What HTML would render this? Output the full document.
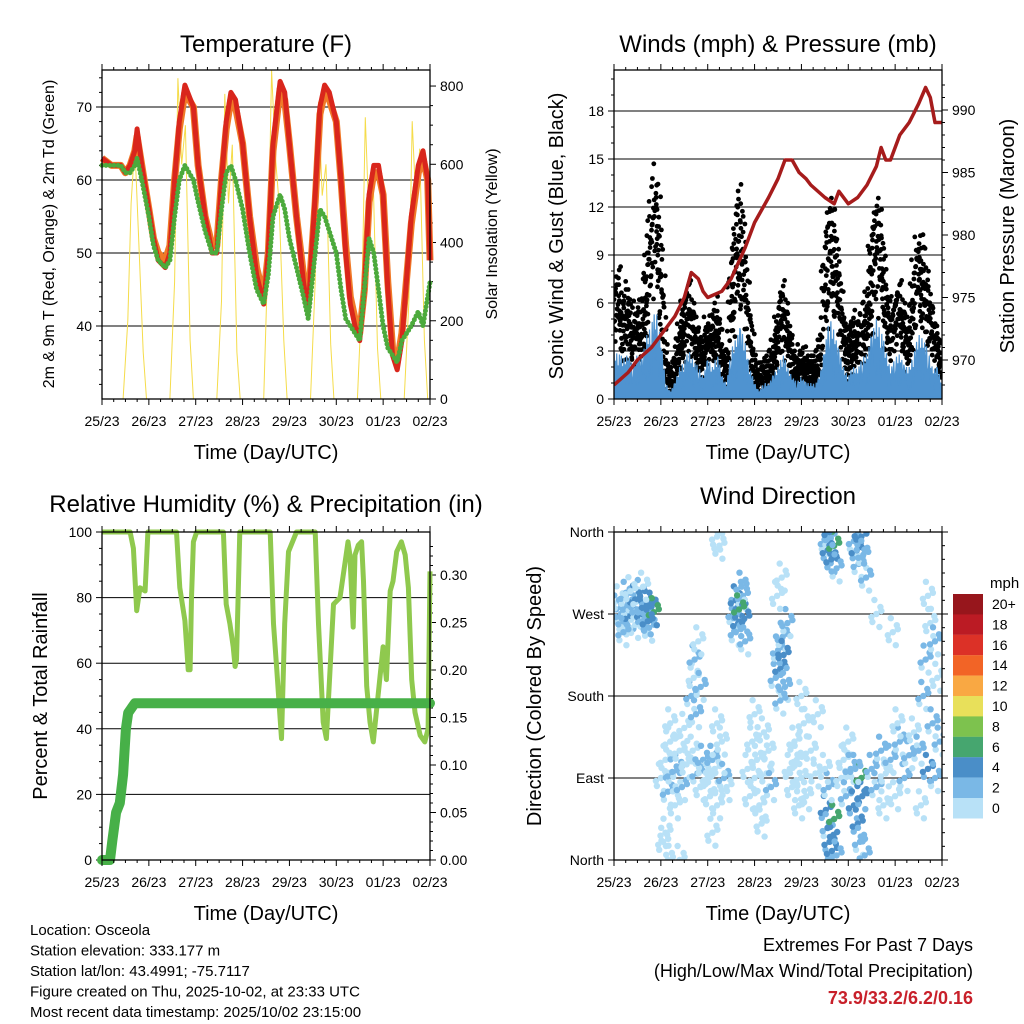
<!DOCTYPE html>
<html><head><meta charset="utf-8"><style>
body{margin:0;background:#fff;}
svg{display:block;font-family:"Liberation Sans",sans-serif;}
</style></head><body>
<svg id="c" width="1024" height="1024" viewBox="0 0 1024 1024"></svg>
<script>
// ---------- DATA ----------
const dayLabels=["25/23","26/23","27/23","28/23","29/23","30/23","01/23","02/23"];
const tT=[0,0.2,0.4,0.5,0.6,0.7,0.75,0.85,1.0,1.1,1.2,1.35,1.45,1.55,1.65,1.77,1.95,2.05,2.2,2.35,2.45,2.55,2.65,2.75,2.85,3.0,3.15,3.3,3.45,3.55,3.65,3.8,3.9,4.0,4.15,4.3,4.4,4.55,4.65,4.75,4.85,5.0,5.1,5.2,5.3,5.4,5.5,5.6,5.7,5.8,5.9,6.0,6.1,6.2,6.3,6.4,6.6,6.75,6.85,6.95,7.0];
const temp2m=[63,62,62,61,62,64,67,62,56,52,49,48,50,60,68,73,70,62,55,50,50,60,68,72,71,65,55,47,43,50,65,73.5,72,65,55,46,42,58,70,73,72,68,60,50,43,40,38,45,58,62,62,58,45,36,34,38,55,62,64,60,49];
const temp9m=[63,62,62,61,62,64,66,62,56,52,50,49,51,60,67,72,70,62,55,51,51,60,67,71,70,65,55,48,44,50,64,72.5,71,65,55,47,43,57,69,72,71,68,60,51,44,41,39,45,57,61,61,58,46,37,35,39,54,61,63,60,49];
const dew2m=[62,62,62,61,61,62,63,60,55,51,49,48,49,55,60,62,60,57,53,50,50,56,61,62,60,56,50,45,43,47,55,58,56,52,48,44,41,50,56,55,53,50,45,41,40,39,38,45,52,50,45,40,37,36,35,38,40,42,40,44,46];
const tSolar=[0,0.45,0.55,0.62,0.7,0.78,0.88,0.95,1.45,1.55,1.62,1.7,1.78,1.88,1.95,2.45,2.55,2.62,2.7,2.78,2.88,2.95,3.45,3.55,3.62,3.7,3.78,3.88,3.95,4.45,4.55,4.62,4.7,4.78,4.88,4.95,5.45,5.55,5.62,5.7,5.78,5.88,5.95,6.45,6.55,6.62,6.7,6.78,6.88,6.95,7.0];
const solar=[0,0,200,500,650,420,120,0,0,300,820,600,700,150,0,0,250,780,500,650,120,0,0,400,840,620,500,150,0,0,300,760,520,600,140,0,0,280,720,450,600,130,0,0,250,710,500,640,150,0,0];
const tWind=[0,0.1,0.2,0.3,0.4,0.5,0.6,0.7,0.8,0.9,1.0,1.1,1.2,1.3,1.4,1.5,1.6,1.7,1.8,1.9,2.0,2.1,2.2,2.3,2.4,2.5,2.6,2.7,2.8,2.9,3.0,3.1,3.2,3.3,3.4,3.5,3.6,3.7,3.8,3.9,4.0,4.1,4.2,4.3,4.4,4.5,4.6,4.7,4.8,4.9,5.0,5.1,5.2,5.3,5.4,5.5,5.6,5.7,5.8,5.9,6.0,6.1,6.2,6.3,6.4,6.5,6.6,6.7,6.8,6.9,7.0];
const gust=[6,8,5,7,4,6,5,9,12,14,10,3,1,2,4,6,7,5,4,3,5,4,6,3,2,8,11,13,9,5,2,1,2,2,3,5,7,5,3,2,3,2,2,2,3,9,12,11,8,5,3,5,4,5,6,10,12,11,7,5,6,7,5,4,8,10,9,7,5,4,2];
const sonic=[3,3,2.5,3,2,3,2.5,4,5,5.5,4,1,0.5,1,2,2.5,3,2.5,2,1.5,2.5,2,3,1.5,1,3,4,4.5,3.5,2,1,0.5,1,1,1.5,2,3,2,1.5,1,1.5,1,1,1,1.5,3.5,5,4.5,3,2,1.5,2,2,2.5,3,4,5,4.5,3,2,2.5,3,2,2,3,4,4,3,2,2,1];
const tPres=[0,0.3,0.5,0.8,1.0,1.3,1.5,1.65,1.8,1.9,2.0,2.3,2.5,2.8,3.0,3.3,3.5,3.65,3.8,3.95,4.1,4.2,4.5,4.7,4.8,5.0,5.2,5.4,5.6,5.7,5.8,5.9,6.1,6.3,6.5,6.65,6.75,6.85,7.0];
const pressure=[968,969,970,971,972,973.5,975,977,976.5,975.5,975,975.5,976.5,979,981,983,984.5,986,986,985,984.5,984,983,982.5,983.5,982.5,983,984,985.5,987,986,986,988,989,990.5,991.8,991,989,989];
const tRH=[0,0.6,0.67,0.74,0.81,0.92,0.95,0.98,1.59,1.66,1.77,1.84,1.88,1.91,1.95,2.02,2.59,2.65,2.73,2.8,2.84,2.87,2.94,3.59,3.66,3.73,3.83,3.9,3.98,4.15,4.55,4.62,4.72,4.79,4.94,5.08,5.22,5.25,5.29,5.36,5.4,5.47,5.54,5.58,5.65,5.72,5.79,6.0,6.07,6.15,6.21,6.29,6.39,6.47,6.54,6.61,6.68,6.79,6.89,6.96,7.0];
const rh=[100,100,95,76,83,82,91,100,100,83,73,58,58,80,97,100,100,78,72,65,59,61,100,100,72,58,37,72,94,100,100,72,42,37,78,80,94,97,93,71,93,96,97,85,53,42,36,65,55,82,85,94,97,93,83,55,45,38,36,40,88];
const tPrecip=[0,0.17,0.22,0.3,0.38,0.45,0.51,0.56,0.7,7.0];
const precip=[0,0,0.02,0.05,0.06,0.09,0.138,0.155,0.165,0.165];
const dirTime=[0.05,0.1,0.15,0.2,0.25,0.3,0.35,0.4,0.45,0.5,0.55,0.6,0.65,0.7,0.75,0.8,0.85,0.62,0.2,0.45,0.72,0.35,
1.0,1.05,1.1,1.15,1.2,1.25,1.3,1.35,1.4,1.45,1.5,1.55,1.2,1.1,1.4,1.15,
1.65,1.7,1.72,1.75,1.8,1.85,1.68,1.78,1.85,1.9,
2.0,2.05,2.1,2.15,2.2,2.3,2.35,2.1,2.2,2.4,2.2,2.25,
2.55,2.6,2.65,2.7,2.75,2.78,2.6,2.72,2.67,2.8,
2.85,2.9,2.95,3.0,3.05,3.1,3.2,3.25,3.3,3.35,3.0,3.15,
3.45,3.5,3.55,3.6,3.65,3.7,3.55,3.62,3.48,3.58,
3.75,3.8,3.85,3.9,4.0,4.05,4.1,4.2,4.3,4.35,4.0,3.95,
4.52,4.56,4.6,4.64,4.7,4.75,4.6,4.52,4.56,4.6,4.65,4.7,4.75,4.58,4.5,
4.85,4.9,4.95,5.0,5.05,
5.12,5.18,5.22,5.28,5.32,5.38,5.12,5.2,5.25,5.3,5.35,5.28,5.15,
5.5,5.6,5.7,5.8,5.9,6.0,6.1,6.2,6.3,6.4,5.75,6.05,5.95,5.6,
6.5,6.6,6.65,6.7,6.75,6.8,6.85,6.9,6.95,6.7,6.85,6.55];
const dirDeg=[275,285,270,262,290,278,268,283,258,275,292,270,265,280,255,278,272,300,250,286,262,295,
90,20,110,75,130,95,60,100,120,80,145,105,150,30,0,0,
180,200,220,160,240,190,120,95,80,110,
90,70,110,100,60,130,90,30,150,80,355,345,
270,285,260,278,290,265,250,300,275,240,
100,70,130,90,110,60,140,95,120,80,160,40,
200,230,210,245,190,260,175,225,290,310,
100,80,130,110,90,150,70,120,95,160,180,60,
350,340,355,330,345,320,360,55,35,20,10,45,5,80,100,
90,110,70,130,100,
350,340,325,355,335,310,60,40,20,70,5,90,100,
100,80,120,95,110,70,130,90,115,140,60,150,250,270,
120,180,220,100,260,150,90,200,130,290,240,60];
const dirSpd=[2,1,3,2,2,3,4,2,1,3,2,4,3,4,3,5,6,1,2,4,5,1,
1,1,0,2,1,2,0,3,1,2,1,0,0,0,0,0,
2,1,3,2,1,2,1,3,1,2,
1,0,2,1,0,1,2,0,0,1,0,1,
3,4,5,4,3,4,2,2,6,3,
0,1,0,1,0,1,0,1,0,2,0,0,
2,3,4,2,3,2,2,5,1,1,
0,1,0,1,0,1,0,1,0,0,0,0,
3,4,3,5,6,3,4,4,3,5,4,6,3,2,1,
1,0,2,1,2,
3,4,3,4,2,3,4,5,3,4,3,6,3,
2,3,2,1,2,1,2,3,2,1,1,1,1,1,
3,2,2,4,1,3,2,1,3,1,2,1];
const cbLabels=["20+","18","16","14","12","10","8","6","4","2","0"];
const cbColors=["#97161c","#bb1b24","#dc3127","#f26426","#f9a843","#e8e05a","#7dc24e","#46a66f","#4a8ec8","#7ab8e6","#b8e1f7"];

// ---------- HELPERS ----------
const svg=document.getElementById('c');
const NS="http://www.w3.org/2000/svg";
function mk(tag,attrs,parent){const e=document.createElementNS(NS,tag);for(const k in attrs)e.setAttribute(k,attrs[k]);(parent||svg).appendChild(e);return e;}
function txt(s,x,y,size,opts,parent){opts=opts||{};const e=mk('text',{x:x,y:y,'font-size':size,'text-anchor':opts.anchor||'middle',fill:opts.fill||'#000'},parent);if(opts.bold)e.setAttribute('font-weight','bold');if(opts.rot)e.setAttribute('transform','rotate('+opts.rot+' '+x+' '+y+')');e.textContent=s;return e;}
function path(xs,ys,fx,fy){return xs.map((v,i)=>(i?'L':'M')+fx(v).toFixed(1)+','+fy(ys[i]).toFixed(1)).join('');}

function panel(name,x0,y0,x1,y1){
  const g=mk('g',{});
  
  
  return {g,x0,y0,x1,y1,fx:d=>x0+(x1-x0)*d/7};
}
function frame(p){
  mk('rect',{x:p.x0,y:p.y0,width:p.x1-p.x0,height:p.y1-p.y0,fill:'none',stroke:'#000','stroke-width':1.3},p.g);
}
function xAxis(p,name){
  const g=mk('g',{},p.g);
  
  
  dayLabels.forEach((l,i)=>{const x=p.fx(i);
    mk('line',{x1:x,y1:p.y1,x2:x,y2:p.y1+6,stroke:'#000'},g);
    mk('line',{x1:x,y1:p.y0,x2:x,y2:p.y0-6,stroke:'#000'},g);
    txt(l,x,p.y1+27,14,{},g);});
  for(let i=0;i<7;i++)for(let j=1;j<4;j++){const x=p.fx(i+j/4);
    mk('line',{x1:x,y1:p.y1,x2:x,y2:p.y1+3,stroke:'#000'},g);
    mk('line',{x1:x,y1:p.y0,x2:x,y2:p.y0-3,stroke:'#000'},g);}
  txt('Time (Day/UTC)',(p.x0+p.x1)/2,p.y1+60,20,{},g);
}
function yTicks(p,vals,labels,fy,side,grid,minor,name){
  const g=mk('g',{},p.g);
  
  
  const x=side==='l'?p.x0:p.x1,dir=side==='l'?-1:1;
  vals.forEach((v,i)=>{const y=fy(v);
    mk('line',{x1:x,y1:y,x2:x+dir*6,y2:y,stroke:'#000'},g);
    if(grid&&y>p.y0+1&&y<p.y1-1)mk('line',{x1:p.x0,y1:y,x2:p.x1,y2:y,stroke:'#000','stroke-width':1},g);
    txt(labels[i],x+dir*10,y+5,14,{anchor:side==='l'?'end':'start'},g);});
  (minor||[]).forEach(v=>{const y=fy(v);mk('line',{x1:x,y1:y,x2:x+dir*3,y2:y,stroke:'#000'},g);});
}

// ---------- TEMPERATURE ----------
(function(){
const p=panel('temperature-panel',102,70,430,399);
const fy=v=>399-(v-30)*7.3, fs=v=>399-v*0.3912;
txt('Temperature (F)',266,52,24,{},p.g);
yTicks(p,[40,50,60,70],['40','50','60','70'],fy,'l',true,[32,34,36,38,42,44,46,48,52,54,56,58,62,64,66,68,72,74],'temp-left-axis');
yTicks(p,[0,200,400,600,800],['0','200','400','600','800'],fs,'r',false,[50,100,150,250,300,350,450,500,550,650,700,750],'solar-right-axis');
const clip=mk('clipPath',{id:'c1'},p.g);mk('rect',{x:102,y:70,width:328,height:329},clip);
const s=mk('path',{d:path(tSolar,solar,p.fx,fs),fill:'none',stroke:'#f5dc4a','stroke-width':1,'clip-path':'url(#c1)'},p.g);

const o=mk('path',{d:path(tT,temp9m,p.fx,fy),fill:'none',stroke:'#f07a28','stroke-width':7,'stroke-linejoin':'round'},p.g);

const r=mk('path',{d:path(tT,temp2m,p.fx,fy),fill:'none',stroke:'#d9261c','stroke-width':5,'stroke-linejoin':'round'},p.g);

const d=mk('path',{d:path(tT,dew2m,p.fx,fy),fill:'none',stroke:'#4caa3c','stroke-width':5,'stroke-linecap':'round','stroke-dasharray':'0 4'},p.g);

frame(p);xAxis(p,'temp-x-axis');
txt('2m & 9m T (Red, Orange) & 2m Td (Green)',54,234,16,{rot:-90},p.g);
txt('Solar Insolation (Yellow)',497,234,16,{rot:-90},p.g);
})();

// ---------- WINDS ----------
(function(){
const p=panel('winds-panel',614,70,942,399);
const fy=v=>399-v*16, fp=v=>110+(990-v)*12.5;
txt('Winds (mph) & Pressure (mb)',778,52,24,{},p.g);
yTicks(p,[0,3,6,9,12,15,18],['0','3','6','9','12','15','18'],fy,'l',true,[1,2,4,5,7,8,10,11,13,14,16,17,19,20],'wind-left-axis');
yTicks(p,[970,975,980,985,990],['970','975','980','985','990'],fp,'r',false,[968,969,971,972,973,974,976,977,978,979,981,982,983,984,986,987,988,989,991,992],'pressure-right-axis');
const clip=mk('clipPath',{id:'c2'},p.g);mk('rect',{x:614,y:70,width:328,height:329},clip);
const dots=mk('g',{'clip-path':'url(#c2)'},p.g);

const fr=[1,0.85,0.72,0.6,0.48];
const N=7;
for(let i=0;i<tWind.length-1;i++){for(let j=0;j<N;j++){const f=j/N;
  const t=tWind[i]+(tWind[i+1]-tWind[i])*f, gv=gust[i]+(gust[i+1]-gust[i])*f, sv=sonic[i]+(sonic[i+1]-sonic[i])*f;
  const sub=fr.slice(0,2+((i+j)%4));
  sub.forEach((k,m)=>{const v=Math.max(sv*1.2,gv*k)+(((m*5+j*3+i)%5)-2)*0.35;
    mk('circle',{cx:(p.fx(t)+(((m*7+j*3)%5)-2)*1.2).toFixed(1),cy:fy(v).toFixed(1),r:2.4,fill:'#000'},dots);});
}}
// jagged sonic wind
let dd='M'+p.fx(0)+','+fy(0);
for(let i=0;i<tWind.length-1;i++){for(let j=0;j<N;j++){const f=j/N;
  const t=tWind[i]+(tWind[i+1]-tWind[i])*f, sv=sonic[i]+(sonic[i+1]-sonic[i])*f;
  const k=[1,0.45,0.8,0.3,0.95,0.55,0.7][(i*3+j)%7];
  dd+='L'+p.fx(t).toFixed(1)+','+fy(sv*k).toFixed(1);}}
dd+='L'+p.fx(7)+','+fy(sonic[sonic.length-1])+'L'+p.fx(7)+','+fy(0)+'Z';
const a=mk('path',{d:dd,fill:'#4f93d0',stroke:'#4f93d0','stroke-width':1.2,'clip-path':'url(#c2)'},p.g);

const pl=mk('path',{d:path(tPres,pressure,p.fx,fp),fill:'none',stroke:'#a61c1c','stroke-width':3.5,'stroke-linejoin':'round','clip-path':'url(#c2)'},p.g);

frame(p);xAxis(p,'winds-x-axis');
txt('Sonic Wind & Gust (Blue, Black)',563,236,20,{rot:-90},p.g);
txt('Station Pressure (Maroon)',1014,236,20,{rot:-90},p.g);
})();

// ---------- RH ----------
(function(){
const p=panel('humidity-panel',102,532,430,860);
const fy=v=>860-v*3.28, fr=v=>860-v*950;
txt('Relative Humidity (%) & Precipitation (in)',266,512,24,{},p.g);
yTicks(p,[0,20,40,60,80,100],['0','20','40','60','80','100'],fy,'l',true,[5,10,15,25,30,35,45,50,55,65,70,75,85,90,95],'rh-left-axis');
yTicks(p,[0,0.05,0.1,0.15,0.2,0.25,0.3],['0.00','0.05','0.10','0.15','0.20','0.25','0.30'],fr,'r',false,[0.01,0.02,0.03,0.04,0.06,0.07,0.08,0.09,0.11,0.12,0.13,0.14,0.16,0.17,0.18,0.19,0.21,0.22,0.23,0.24,0.26,0.27,0.28,0.29,0.31,0.32,0.33],'precip-right-axis');
const l=mk('path',{d:path(tRH,rh,p.fx,fy),fill:'none',stroke:'#8fc94e','stroke-width':5,'stroke-linejoin':'round'},p.g);

const pr=mk('path',{d:path(tPrecip,precip,p.fx,fr),fill:'none',stroke:'#47b048','stroke-width':10,'stroke-linecap':'round','stroke-linejoin':'round'},p.g);

frame(p);xAxis(p,'rh-x-axis');
txt('Percent & Total Rainfall',47,696,20,{rot:-90},p.g);
})();

// ---------- WIND DIRECTION ----------
(function(){
const p=panel('wind-direction-panel',614,532,942,860);
const fy=v=>860-v*328/360;
txt('Wind Direction',778,504,24,{},p.g);
yTicks(p,[0,90,180,270,360],['North','East','South','West','North'],fy,'l',true,[],'direction-left-axis');
const rg=mk('g',{},p.g);
for(let v=15;v<360;v+=15){if(v%90){const y=fy(v);mk('line',{x1:942,y1:y,x2:945,y2:y,stroke:'#000'},rg);}}
[0,90,180,270,360].forEach(v=>mk('line',{x1:942,y1:fy(v),x2:948,y2:fy(v),stroke:'#000'},rg));
const clip=mk('clipPath',{id:'c4'},p.g);mk('rect',{x:614,y:532,width:328,height:328},clip);
const dg=mk('g',{'clip-path':'url(#c4)'},p.g);

const jx=[0,-4,4,-2,3,-5,5],jy=[0,8,-7,-14,13,3,-3];
dirTime.forEach((t,i)=>{
  const bin=Math.min(10,Math.floor(dirSpd[i]/2));
  for(let k=0;k<jx.length;k++){
    const b2=Math.max(0,Math.min(10,bin+((k%3===1)?-1:0)));
    mk('circle',{cx:(p.fx(t)+jx[k]).toFixed(1),cy:(fy(dirDeg[i])+jy[k]).toFixed(1),r:3.2,fill:cbColors[10-b2]},dg);
  }
});
frame(p);xAxis(p,'direction-x-axis');
txt('Direction (Colored By Speed)',541,696,20,{rot:-90},p.g);
const cb=mk('g',{},p.g);

txt('mph',990,588,15,{anchor:'start'},cb);
cbColors.forEach((c,i)=>{const y=594+i*20.4;
  mk('rect',{x:953,y:y,width:30,height:20.5,fill:c},cb);
  txt(cbLabels[i],992,y+15,14,{anchor:'start'},cb);});
})();

// ---------- FOOTER ----------
const ft=mk('g',{});


["Location: Osceola","Station elevation: 333.177 m","Station lat/lon: 43.4991; -75.7117","Figure created on Thu, 2025-10-02, at 23:33 UTC","Most recent data timestamp: 2025/10/02 23:15:00"].forEach((s,i)=>txt(s,30,935+i*20.5,15,{anchor:'start'},ft));
const ex=mk('g',{});


txt('Extremes For Past 7 Days',973,951,18,{anchor:'end'},ex);
txt('(High/Low/Max Wind/Total Precipitation)',973,977,18,{anchor:'end'},ex);
txt('73.9/33.2/6.2/0.16',973,1004,18,{anchor:'end',fill:'#c8202a',bold:true},ex);
</script>
</body></html>
